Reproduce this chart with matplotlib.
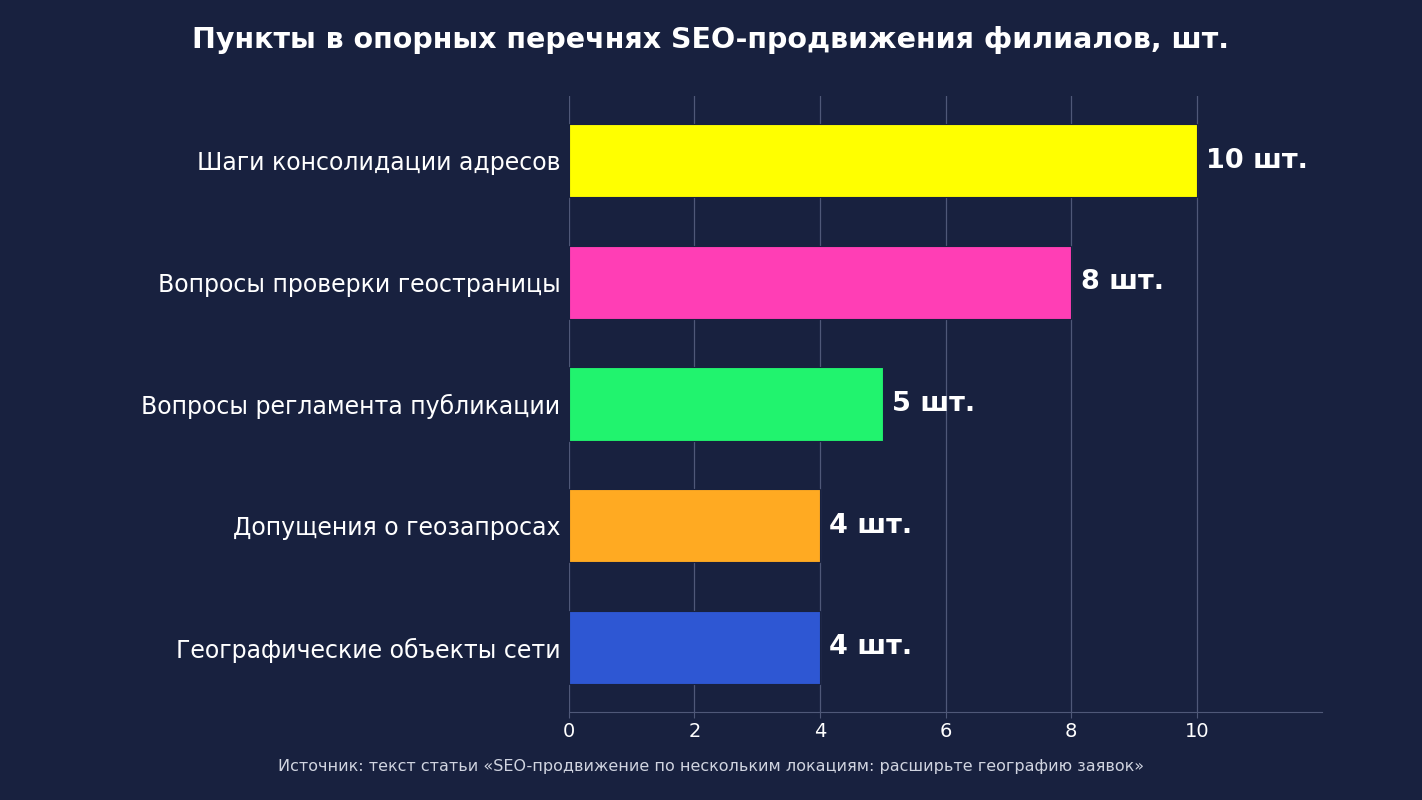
import matplotlib
matplotlib.use("Agg")
import matplotlib.pyplot as plt

# Data
categories = [
    "Шаги консолидации адресов",
    "Вопросы проверки геостраницы",
    "Вопросы регламента публикации",
    "Допущения о геозапросах",
    "Географические объекты сети",
]
values = [10, 8, 5, 4, 4]
colors = ["#FFFF00", "#FF3EB5", "#21F36E", "#FFAA22", "#2E57D3"]
title = "Пункты в опорных перечнях SEO-продвижения филиалов, шт."
source = "Источник: текст статьи «SEO-продвижение по нескольким локациям: расширьте географию заявок»"

BG = "#18213F"
GRID = "#4F5878"

fig = plt.figure(figsize=(14.22, 8), dpi=100, facecolor=BG)
ax = fig.add_axes([0.400, 0.11, 0.530, 0.77])
ax.set_facecolor(BG)

y = list(range(len(categories)))
ax.barh(y, values, height=0.6, color=colors, edgecolor=BG, linewidth=0.8, zorder=3)
ax.invert_yaxis()
ax.set_yticks(y)
ax.set_yticklabels(categories, fontsize=17, color="white")
ax.set_xlim(0, 12)
ax.set_xticks([0, 2, 4, 6, 8, 10])
ax.tick_params(axis="x", colors=GRID, labelcolor="white", labelsize=14, length=4)
ax.tick_params(axis="y", length=0, pad=6)

for side in ["top", "right", "left"]:
    ax.spines[side].set_visible(False)
ax.spines["bottom"].set_color(GRID)
ax.grid(axis="x", color=GRID, linewidth=0.9, zorder=0)
ax.set_axisbelow(True)

for yi, v in zip(y, values):
    ax.text(v + 0.15, yi, f"{v} шт.", va="center", ha="left",
            fontsize=19.5, fontweight="bold", color="white")

fig.text(0.5, 0.95, title, ha="center", va="center", fontsize=20.5,
         fontweight="bold", color="white")
fig.text(0.5, 0.0425, source, ha="center", va="center", fontsize=11.5,
         color="#D0D4E0")

fig.savefig("out.png", dpi=100, facecolor=BG)
